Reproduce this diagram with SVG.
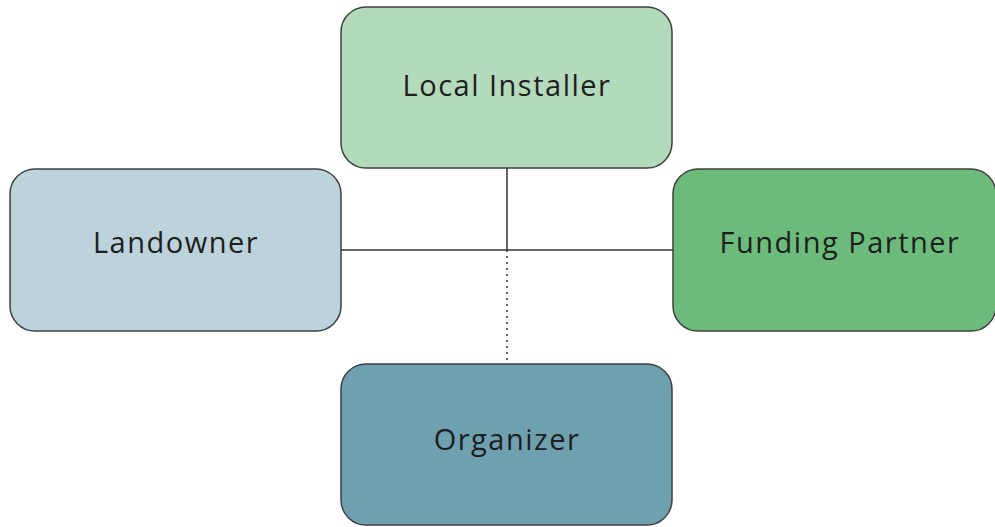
<svg xmlns="http://www.w3.org/2000/svg" width="995" height="527" viewBox="0 0 995 527">
<style>
.box{stroke:#3f3f3f;stroke-width:1.5}
.lbl{font-family:"Open Sans","Noto Sans",sans-serif;font-size:29px;letter-spacing:1.5px;fill:#1e1e1e;text-anchor:middle}
.conn{stroke:#333;stroke-width:1.5;fill:none}
</style>
<rect width="995" height="527" fill="#ffffff"/>
<g id="connectors">
<line class="conn" x1="507" y1="168" x2="507" y2="250"/>
<line class="conn" x1="341" y1="250" x2="673" y2="250"/>
<line class="conn" x1="507" y1="250" x2="507" y2="364" stroke-dasharray="2,4" stroke-width="1.2"/>
</g>
<g id="local-installer">
<rect class="box" x="341" y="7" width="331" height="161" rx="25" fill="#b3dabb"/>
<text class="lbl" x="507" y="96">Local Installer</text>
</g>
<g id="landowner">
<rect class="box" x="10" y="169" width="331" height="162" rx="25" fill="#bcd3dc"/>
<text class="lbl" x="176" y="253">Landowner</text>
</g>
<g id="funding-partner">
<rect class="box" x="673" y="169" width="323" height="162" rx="25" fill="#6dbb7b"/>
<text class="lbl" x="840" y="253">Funding Partner</text>
</g>
<g id="organizer">
<rect class="box" x="341" y="364" width="331" height="161" rx="25" fill="#6fa0b0"/>
<text class="lbl" x="507" y="450">Organizer</text>
</g>
</svg>
